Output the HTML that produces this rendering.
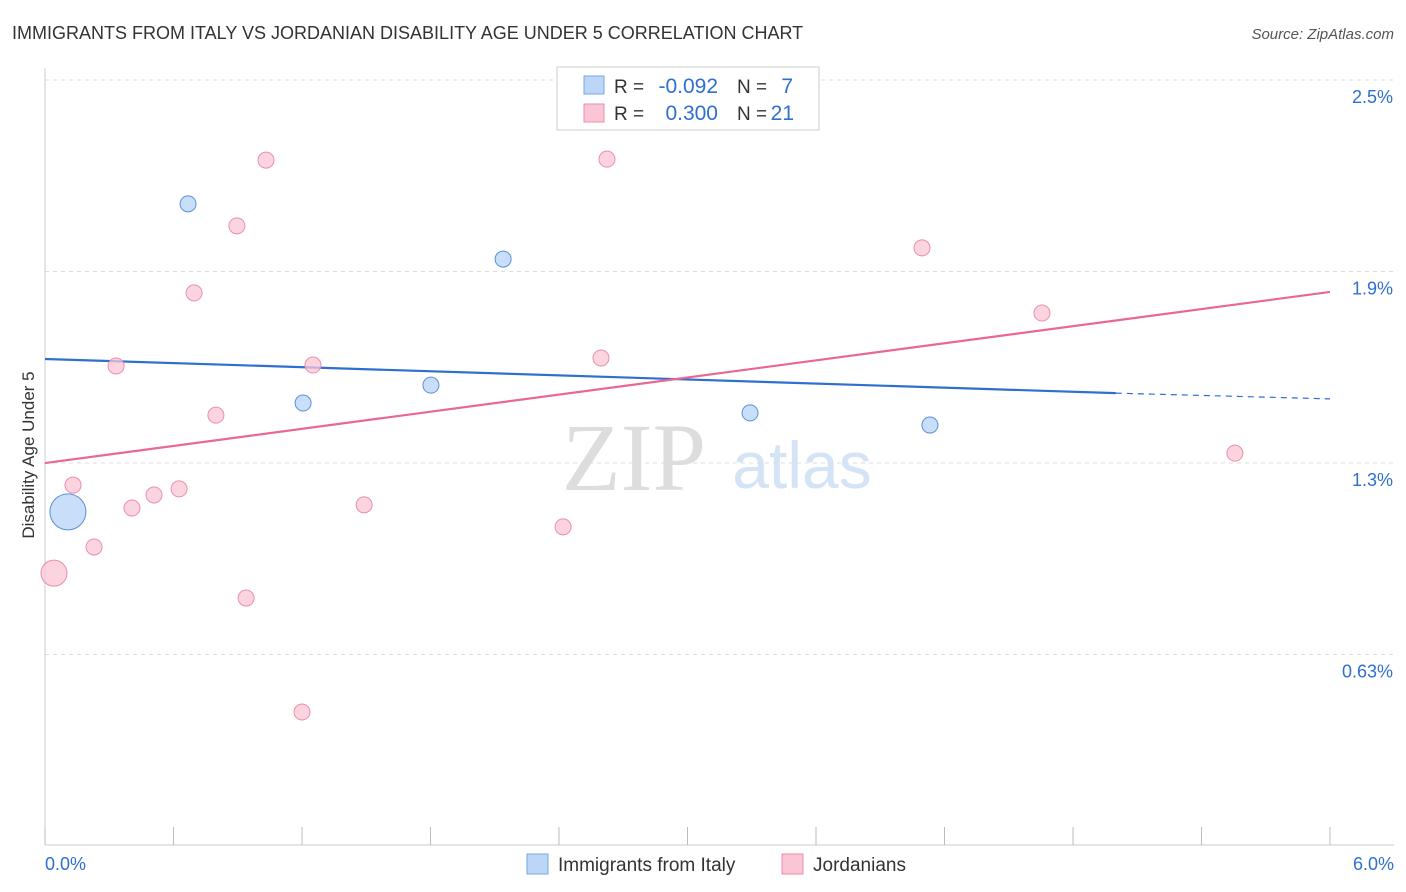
<!DOCTYPE html>
<html><head><meta charset="utf-8"><style>
body{margin:0;background:#fff;font-family:"Liberation Sans",sans-serif;}
svg{display:block}
</style></head><body>
<svg id="c" width="1406" height="892">
<text x="12" y="39" font-size="18" fill="#333">IMMIGRANTS FROM ITALY VS JORDANIAN DISABILITY AGE UNDER 5 CORRELATION CHART</text>
<text x="1394" y="39" font-size="15" fill="#555" font-style="italic" text-anchor="end">Source: ZipAtlas.com</text>
<text x="34" y="455" font-size="17" fill="#333" text-anchor="middle" transform="rotate(-90 34 455)">Disability Age Under 5</text>
<text x="634" y="490" font-size="96" fill="#ddd" font-family="Liberation Serif,serif" text-anchor="middle">ZIP</text>
<text x="802" y="488" font-size="66" fill="#d4e3f5" text-anchor="middle">atlas</text>
<g id="grid"></g><g id="axes"></g><g id="lines"></g><g id="pts"></g>
<g>
<rect x="557" y="67" width="262" height="63" fill="#fff" stroke="#ccc"/>
<rect x="584" y="76" width="20" height="18" fill="#bcd6f7" stroke="#7aa6e0"/>
<rect x="584" y="104" width="20" height="18" fill="#fac5d5" stroke="#ea8fab"/>
<text x="614" y="93" font-size="19" fill="#333">R =</text>
<text x="718" y="93" font-size="21" fill="#2f6fd0" text-anchor="end">-0.092</text>
<text x="737" y="93" font-size="19" fill="#333">N =</text>
<text x="793" y="93" font-size="21" fill="#2f6fd0" text-anchor="end">7</text>
<text x="614" y="120" font-size="19" fill="#333">R =</text>
<text x="718" y="120" font-size="21" fill="#2f6fd0" text-anchor="end">0.300</text>
<text x="737" y="120" font-size="19" fill="#333">N =</text>
<text x="794" y="120" font-size="21" fill="#2f6fd0" text-anchor="end">21</text>
</g>
<g>
<rect x="527" y="854" width="21" height="20" fill="#bcd6f7" stroke="#7aa6e0"/>
<text x="558" y="871" font-size="19" fill="#333">Immigrants from Italy</text>
<rect x="782" y="854" width="21" height="20" fill="#fac5d5" stroke="#ea8fab"/>
<text x="813" y="871" font-size="19" fill="#333">Jordanians</text>
</g>
</svg>
<script>
const xTicks=[0,0.6,1.2,1.8,2.4,3.0,3.6,4.2,4.8,5.4,6.0];
const yTickVals=[2.5,1.9,1.3,0.7];
const yTickLabels=["2.5%","1.9%","1.3%","0.63%"];
const italyX=[0.668,2.139,1.205,1.802,3.292,4.132,0.107];
const italyY=[2.112,1.939,1.488,1.544,1.457,1.419,1.147];
const italyR=[8,8,8,8,8,8,18];
const jordX=[1.032,2.624,0.896,0.696,4.095,4.655,0.332,1.251,2.596,0.798,0.131,0.406,0.509,0.626,1.490,2.419,0.229,0.042,0.939,1.200,5.556];
const jordY=[2.249,2.252,2.043,1.833,1.974,1.770,1.604,1.607,1.629,1.450,1.231,1.159,1.200,1.219,1.169,1.100,1.037,0.955,0.877,0.520,1.331];
const jordR=[8,8,8,8,8,8,8,8,8,8,8,8,8,8,8,8,8,13,8,8,8];
const italyLine=[1.626,1.519,1.501];
const jordLine=[1.300,1.836];
const NS="http://www.w3.org/2000/svg";
const X=v=>45+v/6*1285, Y=v=>80+(2.5-v)*319.2;
function mk(t,a,p){const e=document.createElementNS(NS,t);for(const k in a)e.setAttribute(k,a[k]);p.appendChild(e);return e;}
const grid=document.getElementById('grid'),axes=document.getElementById('axes'),lines=document.getElementById('lines'),pts=document.getElementById('pts');
yTickVals.forEach((v,i)=>{
 const l=mk('line',{x1:45,x2:1394,y1:Y(v),y2:Y(v),stroke:'#ddd','stroke-dasharray':'4,4'},grid);
 
 
 const t=mk('text',{x:1393,y:Y(v)+23,'font-size':18,fill:'#2f6fd0','text-anchor':'end'},axes);
 t.textContent=yTickLabels[i];
 
 
});
mk('line',{x1:45,x2:45,y1:68,y2:845,stroke:'#ccc'},axes);
mk('line',{x1:45,x2:1394,y1:845,y2:845,stroke:'#ccc'},axes);
xTicks.forEach(v=>{const l=mk('line',{x1:X(v),x2:X(v),y1:827,y2:845,stroke:'#bbb'},axes);
 
 });
let t=mk('text',{x:45,y:870,'font-size':18,fill:'#2f6fd0'},axes);t.textContent='0.0%';


t=mk('text',{x:1394,y:870,'font-size':18,fill:'#2f6fd0','text-anchor':'end'},axes);t.textContent='6.0%';


let l=mk('line',{x1:X(0),y1:Y(italyLine[0]),x2:X(5.0),y2:Y(italyLine[1]),stroke:'#2f6fd0','stroke-width':2.2},lines);


l=mk('line',{x1:X(5.0),y1:Y(italyLine[1]),x2:X(6),y2:Y(italyLine[2]),stroke:'#2f6fd0','stroke-width':1.2,'stroke-dasharray':'6,5'},lines);


l=mk('line',{x1:X(0),y1:Y(jordLine[0]),x2:X(6),y2:Y(jordLine[1]),stroke:'#e8688f','stroke-width':2.2},lines);


jordX.forEach((v,i)=>{const c=mk('circle',{cx:X(v),cy:Y(jordY[i]),r:jordR[i],fill:'#fac5d5','fill-opacity':0.75,stroke:'#ea8fab','stroke-width':1},pts);
 
 });
italyX.forEach((v,i)=>{const c=mk('circle',{cx:X(v),cy:Y(italyY[i]),r:italyR[i],fill:'#bcd6f7','fill-opacity':0.8,stroke:'#5b8fd8','stroke-width':1},pts);
 
 });
</script>
</body></html>
